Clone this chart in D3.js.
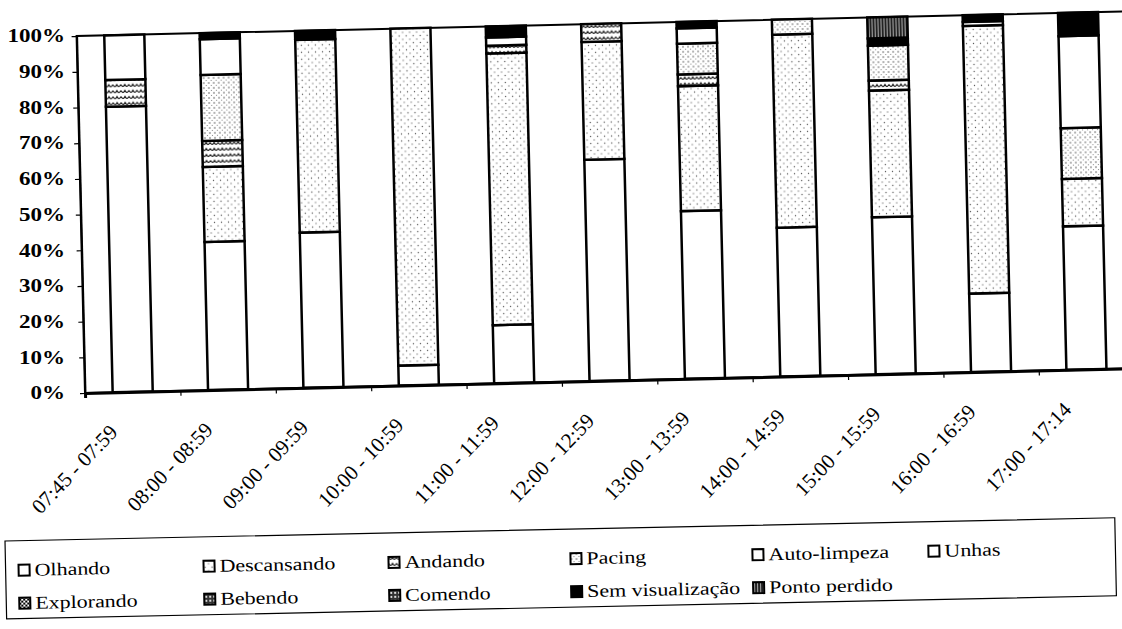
<!DOCTYPE html>
<html>
<head>
<meta charset="utf-8">
<script src="https://cdn.jsdelivr.net/npm/d3@7"></script>
<style>
body { margin: 0; background: #fff; }
svg { display: block; background: #fff; }
text { font-family: "Liberation Serif", "Times New Roman", serif; fill: #000; }
</style>
</head>
<body>
<svg width="1122" height="629"></svg>
<script>
const categories = ["07:45 - 07:59", "08:00 - 08:59", "09:00 - 09:59", "10:00 - 10:59",
    "11:00 - 11:59", "12:00 - 12:59", "13:00 - 13:59", "14:00 - 14:59",
    "15:00 - 15:59", "16:00 - 16:59", "17:00 - 17:14"];

// percent of time per behaviour, one value per time slot
const olhando      = [80, 41.5, 43.5, 5.6, 16.3, 62, 47, 41.7, 44, 22, 40.2];
const descansando  = [0, 21, 54, 94.4, 76.1, 33, 35, 54.1, 35.5, 75, 13.3];
const andando      = [7.5, 7.3, 0, 0, 2.2, 5, 3.3, 0, 2.8, 0, 0];
const pacing       = [0, 18.5, 0, 0, 0, 0, 8.6, 4.2, 9.8, 0, 14.2];
const autoLimpeza  = [12.5, 10, 0, 0, 2.3, 0, 4.3, 0, 0, 1.1, 25.8];
const unhas        = [0, 0, 0, 0, 0, 0, 0, 0, 0, 0, 0];
const explorando   = [0, 0, 0, 0, 0, 0, 0, 0, 0, 0, 0];
const bebendo      = [0, 0, 0, 0, 0, 0, 0, 0, 0, 0, 0];
const comendo      = [0, 0, 0, 0, 0, 0, 0, 0, 0, 0, 0];
const semVisual    = [0, 1.7, 2.5, 0, 3.1, 0, 1.8, 0, 2, 1.9, 6.5];
const pontoPerdido = [0, 0, 0, 0, 0, 0, 0, 0, 5.9, 0, 0];

const seriesNames = ["Olhando", "Descansando", "Andando", "Pacing", "Auto-limpeza", "Unhas",
    "Explorando", "Bebendo", "Comendo", "Sem visualização", "Ponto perdido"];
const seriesValues = [olhando, descansando, andando, pacing, autoLimpeza, unhas,
    explorando, bebendo, comendo, semVisual, pontoPerdido];
const yTicks = [0, 10, 20, 30, 40, 50, 60, 70, 80, 90, 100];

const fills = ["#fff", "url(#dotsA)", "url(#zigzag)", "url(#dotsB)", "#fff", "#fff",
    "url(#checker)", "url(#checker2)", "url(#checker2)", "#000", "url(#vlines)"];

// layout (the scanned original is a bit tilted)
const x0 = 85;
const yBottom = 393;
const plotH = 357;
const step = 95.4;
const plotW = step * categories.length;
const tilt = -1.35;

const svg = d3.select("svg");

// patterns
const defs = svg.append("defs");

let p = defs.append("pattern").attr("id", "dotsA").attr("patternUnits", "userSpaceOnUse")
    .attr("width", 7).attr("height", 7);
p.append("rect").attr("width", 7).attr("height", 7).attr("fill", "#fff");
p.append("circle").attr("cx", 1.5).attr("cy", 1.5).attr("r", 0.7).attr("fill", "#555");
p.append("circle").attr("cx", 5).attr("cy", 5).attr("r", 0.7).attr("fill", "#777");

p = defs.append("pattern").attr("id", "dotsB").attr("patternUnits", "userSpaceOnUse")
    .attr("width", 5).attr("height", 5);
p.append("rect").attr("width", 5).attr("height", 5).attr("fill", "#fff");
p.append("circle").attr("cx", 1).attr("cy", 1).attr("r", 0.75).attr("fill", "#444");
p.append("circle").attr("cx", 3.5).attr("cy", 3.5).attr("r", 0.6).attr("fill", "#777");

p = defs.append("pattern").attr("id", "zigzag").attr("patternUnits", "userSpaceOnUse")
    .attr("width", 8).attr("height", 6);
p.append("rect").attr("width", 8).attr("height", 6).attr("fill", "#fff");
p.append("path").attr("d", "M0,1.5 Q2,5.5 4,1.5 Q6,5.5 8,1.5")
    .attr("fill", "none").attr("stroke", "#000").attr("stroke-width", 1.1);

p = defs.append("pattern").attr("id", "vlines").attr("patternUnits", "userSpaceOnUse")
    .attr("width", 3).attr("height", 3);
p.append("rect").attr("width", 3).attr("height", 3).attr("fill", "#222");
p.append("rect").attr("x", 1).attr("width", 1).attr("height", 3).attr("fill", "#aaa");

p = defs.append("pattern").attr("id", "checker").attr("patternUnits", "userSpaceOnUse")
    .attr("width", 4).attr("height", 4);
p.append("rect").attr("width", 4).attr("height", 4).attr("fill", "#fff");
p.append("rect").attr("width", 2).attr("height", 2).attr("fill", "#000");
p.append("rect").attr("x", 2).attr("y", 2).attr("width", 2).attr("height", 2).attr("fill", "#000");

p = defs.append("pattern").attr("id", "checker2").attr("patternUnits", "userSpaceOnUse")
    .attr("width", 4).attr("height", 4);
p.append("rect").attr("width", 4).attr("height", 4).attr("fill", "#333");
p.append("rect").attr("x", 1).attr("y", 1).attr("width", 2).attr("height", 2).attr("fill", "#ddd");

// data table for the stack
const rows = categories.map((c, i) => {
    const r = { cat: c };
    seriesNames.forEach((s, j) => r[s] = seriesValues[j][i]);
    return r;
});
const stacked = d3.stack().keys(seriesNames)(rows);

const x = d3.scaleBand().domain(categories)
    .range([x0, x0 + plotW]).paddingInner(0.58).paddingOuter(0.29);
const xEdges = d3.scaleLinear().domain([0, categories.length]).range([x0, x0 + plotW]);
const y = d3.scaleLinear().domain([0, 100]).range([yBottom, yBottom - plotH]);

const g = svg.append("g").attr("transform", `rotate(${tilt},${x0},${yBottom})`);

// plot frame
g.append("rect")
    .attr("x", x0).attr("y", y(100))
    .attr("width", plotW).attr("height", plotH)
    .attr("fill", "#fff").attr("stroke", "#000").attr("stroke-width", 2);

// bars
g.selectAll(".layer")
    .data(stacked)
    .enter().append("g")
    .attr("class", "layer")
    .attr("fill", (d, i) => fills[i])
    .selectAll("rect")
    .data(d => d.filter(v => v[1] - v[0] > 0))
    .enter().append("rect")
    .attr("x", d => x(d.data.cat))
    .attr("y", d => y(d[1]))
    .attr("width", x.bandwidth())
    .attr("height", d => y(d[0]) - y(d[1]))
    .attr("stroke", "#000")
    .attr("stroke-width", 2.5);

// axes
const xAxis = g.append("g")
    .attr("transform", `translate(0,${yBottom})`)
    .call(d3.axisBottom(xEdges).tickValues(d3.range(categories.length + 1)).tickSize(5).tickFormat(""));
xAxis.select(".domain").attr("stroke-width", 3);
xAxis.selectAll(".tick line").attr("stroke-width", 1.2);

const yAxis = g.append("g")
    .attr("transform", `translate(${x0},0)`)
    .call(d3.axisLeft(y).tickValues(yTicks).tickSize(5).tickFormat("").tickSizeOuter(0));
yAxis.select(".domain").attr("stroke-width", 2);
yAxis.selectAll(".tick line").attr("stroke-width", 1.2);

// category labels
g.selectAll(".xlabel")
    .data(categories)
    .enter().append("text")
    .attr("class", "xlabel")
    .attr("transform", d => `translate(${x(d) + x.bandwidth() / 2 - 15},${yBottom + 41}) rotate(-45)`)
    .attr("text-anchor", "end")
    .style("font-size", "21px")
    .text(d => d);

// percent labels (kept level, like the scan)
svg.selectAll(".ylabel")
    .data(yTicks)
    .enter().append("text")
    .attr("class", "ylabel")
    .attr("transform", d => `translate(65,${y(d)}) scale(1.28,1)`)
    .attr("text-anchor", "end")
    .attr("dy", "0.35em")
    .style("font-size", "18px")
    .style("font-weight", "bold")
    .text(d => d + "%");

// legend
const legX = 5, legY = 541;
const leg = svg.append("g").attr("transform", `rotate(-1.2,${legX},${legY})`);
leg.append("rect")
    .attr("x", legX).attr("y", legY)
    .attr("width", 1110).attr("height", 78)
    .attr("fill", "none").attr("stroke", "#000").attr("stroke-width", 1.2);

const colX = [18, 203, 388, 570, 752, 928];
const rowY = [570, 603];

const items = leg.selectAll(".item")
    .data(seriesNames)
    .enter().append("g")
    .attr("class", "item")
    .attr("transform", (d, i) => `translate(${colX[i % 6]},${rowY[Math.floor(i / 6)]})`);

items.append("rect")
    .attr("x", 0).attr("y", -5)
    .attr("width", 11).attr("height", 11)
    .attr("fill", (d, i) => fills[i])
    .attr("stroke", "#000").attr("stroke-width", 2);

items.append("text")
    .attr("transform", "translate(16,0) scale(1.22,1)")
    .attr("dy", "0.35em")
    .style("font-size", "18px")
    .text(d => d);
</script>
</body>
</html>
